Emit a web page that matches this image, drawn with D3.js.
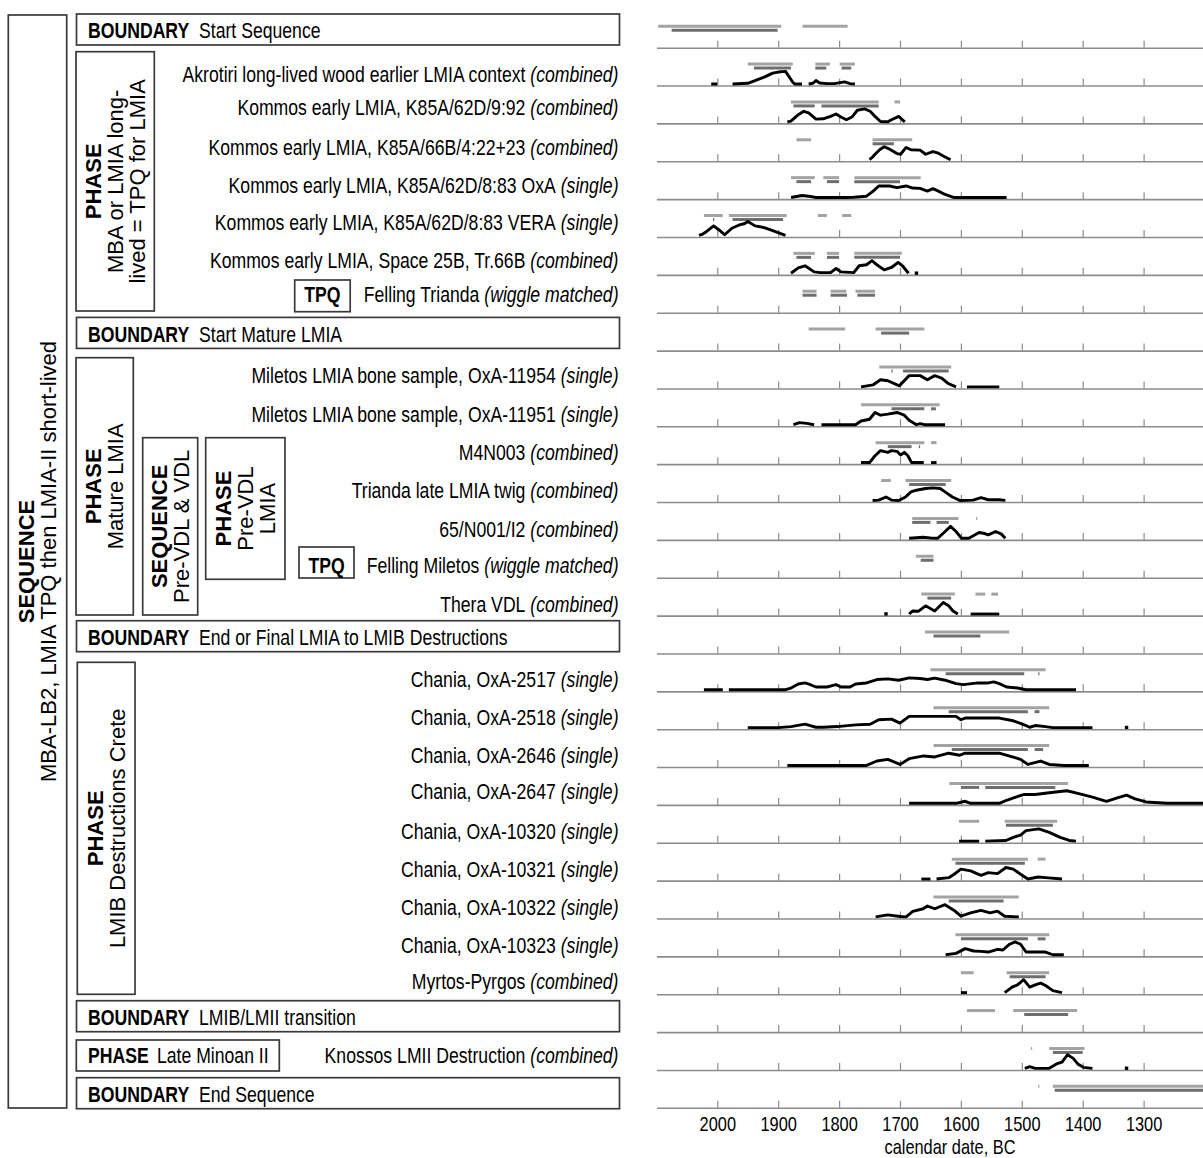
<!DOCTYPE html>
<html><head><meta charset="utf-8">
<script src="https://cdn.jsdelivr.net/npm/d3@7"></script>
<style>
body{margin:0;background:#fff}
svg{display:block;font-family:"Liberation Sans",Arial,Helvetica,sans-serif}
</style></head>
<body>
<svg id="chart" width="1203" height="1158"></svg>
<script>
// ---------------- DATA ----------------
const rowLabels = [
  "Start Sequence",
  "Akrotiri long-lived wood earlier LMIA context",
  "Kommos early LMIA, K85A/62D/9:92",
  "Kommos early LMIA, K85A/66B/4:22+23",
  "Kommos early LMIA, K85A/62D/8:83 OxA",
  "Kommos early LMIA, K85A/62D/8:83 VERA",
  "Kommos early LMIA, Space 25B, Tr.66B",
  "Felling Trianda",
  "Start Mature LMIA",
  "Miletos LMIA bone sample, OxA-11954",
  "Miletos LMIA bone sample, OxA-11951",
  "M4N003",
  "Trianda late LMIA twig",
  "65/N001/I2",
  "Felling Miletos",
  "Thera VDL",
  "End or Final LMIA to LMIB Destructions",
  "Chania, OxA-2517",
  "Chania, OxA-2518",
  "Chania, OxA-2646",
  "Chania, OxA-2647",
  "Chania, OxA-10320",
  "Chania, OxA-10321",
  "Chania, OxA-10322",
  "Chania, OxA-10323",
  "Myrtos-Pyrgos",
  "LMIB/LMII transition",
  "Knossos LMII Destruction",
  "End Sequence"
];
const rowTypes = ["BOUNDARY","item","item","item","item","item","item","TPQ","BOUNDARY",
  "item","item","item","item","item","TPQ","item","BOUNDARY",
  "item","item","item","item","item","item","item","item","item","BOUNDARY","item","BOUNDARY"];
const rowQualifiers = ["","(combined)","(combined)","(combined)","(single)","(single)","(combined)","(wiggle matched)","",
  "(single)","(single)","(combined)","(combined)","(combined)","(wiggle matched)","(combined)","",
  "(single)","(single)","(single)","(single)","(single)","(single)","(single)","(single)","(combined)","","(combined)",""];

const tickYears = [2000,1900,1800,1700,1600,1500,1400,1300];
const axisTitle = "calendar date, BC";

// 95.4% ranges (upper, light) and 68.2% ranges (lower, dark), years BC
const range95 = [
  [[2097,1895],[1860,1786]],
  [[1950,1876],[1839,1815],[1799,1774]],
  [[1879,1735],[1709,1700]],
  [[1870,1846],[1745,1680]],
  [[1879,1840],[1826,1800],[1775,1666]],
  [[2022,1991],[1981,1886],[1835,1820],[1795,1780]],
  [[1875,1840],[1820,1800],[1775,1697]],
  [[1860,1837],[1814,1788],[1773,1741]],
  [[1850,1790],[1740,1660]],
  [[1734,1616]],
  [[1764,1635]],
  [[1740,1660],[1649,1640]],
  [[1731,1715],[1691,1616]],
  [[1680,1604],[1575,1573]],
  [[1674,1645]],
  [[1665,1610],[1576,1560],[1550,1539]],
  [[1659,1521]],
  [[1650,1461]],
  [[1645,1455]],
  [[1645,1455]],
  [[1619,1424]],
  [[1603,1570],[1528,1442]],
  [[1615,1490],[1474,1461]],
  [[1645,1505]],
  [[1609,1455]],
  [[1600,1579],[1525,1455]],
  [[1590,1544],[1514,1409]],
  [[1485,1483],[1455,1397]],
  [[1473,1471],[1449,1180]]
];
const range68 = [
  [[2075,1901]],
  [[1940,1879],[1839,1821],[1796,1780]],
  [[1875,1840],[1829,1735]],
  [[1745,1710]],
  [[1870,1846],[1820,1800],[1775,1700]],
  [[2007,2005],[1975,1892]],
  [[1870,1846],[1820,1800],[1775,1700]],
  [[1860,1837],[1814,1787],[1770,1741]],
  [[1731,1685]],
  [[1714,1712],[1695,1620]],
  [[1714,1660],[1649,1641]],
  [[1720,1681],[1669,1667]],
  [[1685,1625]],
  [[1680,1650],[1640,1620]],
  [[1666,1645]],
  [[1655,1616]],
  [[1645,1568]],
  [[1625,1496],[1473,1471]],
  [[1620,1490],[1479,1471]],
  [[1615,1490],[1479,1465]],
  [[1600,1570],[1560,1445]],
  [[1526,1449]],
  [[1609,1495]],
  [[1620,1530]],
  [[1600,1490],[1474,1461]],
  [[1520,1461]],
  [[1496,1424]],
  [[1449,1400]],
  [[1446,1180]]
];

// posterior distributions: segments of [year BC, relative probability]
const posteriors = [
  [],
  [[[2010,0],[2000,0]],
   [[1975,0],[1950,2],[1938,10],[1923,20],[1909,32],[1900,35],[1888,37],[1876,5],[1873,0],[1861,0]],
   [[1850,0],[1843,2],[1838,10],[1832,3],[1820,1],[1808,1],[1791,6],[1782,1],[1774,0]]],
  [[[1885,0],[1879,2],[1867,21],[1858,31],[1850,26],[1838,8],[1826,9],[1814,16],[1805,23],[1797,14],[1788,6],[1779,14],[1770,34],[1758,38],[1749,31],[1741,16],[1732,1],[1720,0],[1714,6],[1702,16],[1696,6],[1692,0]]],
  [[[1750,0],[1745,8],[1741,16],[1733,30],[1726,38],[1717,31],[1705,18],[1699,16],[1690,36],[1682,29],[1667,28],[1658,16],[1646,24],[1637,19],[1629,11],[1617,0]]],
  [[[1879,0],[1861,6],[1850,4],[1838,0],[1790,0],[1776,1],[1755,4],[1744,19],[1735,34],[1717,34],[1705,29],[1690,34],[1679,28],[1667,27],[1655,19],[1646,26],[1637,19],[1626,9],[1611,0],[1525,0]]],
  [[[2030,0],[2024,4],[2018,11],[2006,28],[1997,16],[1988,2],[1976,21],[1965,30],[1955,35],[1950,41],[1938,28],[1923,23],[1909,14],[1897,6],[1888,0]]],
  [[[1879,0],[1867,16],[1856,22],[1841,4],[1830,2],[1814,2],[1805,14],[1797,4],[1776,2],[1767,22],[1755,25],[1746,37],[1738,25],[1726,10],[1714,17],[1703,32],[1696,22],[1686,0]]],
  [],
  [],
  [[[1764,0],[1744,6],[1732,21],[1720,18],[1701,3],[1685,33],[1667,33],[1655,21],[1643,33],[1632,26],[1620,9],[1608,0]],
   [[1590,0],[1537,0]]],
  [[[1875,0],[1865,6],[1853,4],[1841,0]],
   [[1829,0],[1773,0],[1764,11],[1750,16],[1741,36],[1732,28],[1720,31],[1705,36],[1693,28],[1685,13],[1673,0],[1667,3],[1660,0],[1626,0]]],
  [[[1764,0],[1750,0],[1741,20],[1732,35],[1720,30],[1714,35],[1705,33],[1699,22],[1693,30],[1687,20],[1681,0],[1661,0]],
   [[1649,0],[1640,0]]],
  [[[1745,0],[1735,1],[1723,10],[1714,1],[1702,0],[1691,10],[1682,25],[1673,30],[1658,35],[1646,37],[1634,35],[1626,25],[1614,10],[1602,0],[1580,1],[1567,8],[1555,2],[1537,2],[1527,0]]],
  [[[1685,0],[1662,3],[1650,1],[1638,0],[1629,15],[1617,35],[1608,20],[1599,0],[1587,0],[1570,17],[1561,14],[1555,10],[1543,20],[1534,13],[1527,0]]],
  [],
  [[[1685,0],[1679,9],[1670,8],[1658,24],[1643,9],[1629,34],[1620,24],[1613,9],[1605,0]],
   [[1584,0],[1537,0]]],
  [],
  [[[2022,0],[1991,0]],
   [[1981,0],[1888,0],[1879,5],[1867,17],[1856,20],[1846,14],[1838,8],[1820,8],[1805,15],[1797,8],[1782,8],[1773,17],[1755,20],[1738,30],[1720,32],[1702,28],[1685,35],[1667,33],[1655,30],[1643,34],[1626,28],[1608,18],[1596,15],[1572,20],[1555,20],[1546,23],[1537,18],[1525,8],[1507,5],[1493,0],[1411,0]]],
  [[[1950,0],[1900,0],[1879,3],[1856,10],[1838,1],[1826,1],[1803,3],[1773,8],[1749,10],[1735,23],[1714,25],[1700,13],[1685,33],[1655,33],[1608,33],[1600,23],[1593,28],[1537,28],[1514,20],[1496,8],[1487,1],[1478,6],[1461,3],[1449,0],[1384,0]]],
  [[[1885,0],[1755,0],[1738,13],[1720,18],[1700,3],[1685,20],[1661,28],[1643,25],[1620,36],[1602,30],[1593,36],[1537,36],[1502,18],[1490,3],[1469,13],[1455,3],[1431,0],[1390,0]]],
  [[[1685,0],[1608,0],[1593,6],[1584,0],[1537,0],[1525,9],[1510,18],[1496,26],[1478,26],[1455,31],[1426,37],[1408,29],[1384,18],[1361,6],[1343,16],[1328,24],[1314,13],[1296,4],[1261,0],[1202,0]]],
  [[[1603,0],[1570,0]],
   [[1560,0],[1526,2],[1514,11],[1502,18],[1493,31],[1472,36],[1455,26],[1437,11],[1422,2],[1411,0]]],
  [[[1665,0],[1650,0]],
   [[1640,0],[1620,4],[1611,14],[1600,29],[1584,24],[1567,11],[1555,19],[1540,16],[1526,34],[1514,29],[1502,14],[1490,0],[1473,6],[1461,4],[1434,0]]],
  [[[1740,0],[1730,3],[1720,6],[1700,1],[1690,0],[1679,16],[1662,24],[1655,32],[1643,24],[1626,36],[1611,19],[1600,2],[1584,12],[1567,19],[1552,12],[1540,17],[1528,2],[1505,0]]],
  [[[1625,0],[1608,4],[1593,18],[1579,11],[1567,10],[1555,8],[1540,16],[1531,14],[1520,31],[1511,38],[1502,31],[1493,8],[1478,8],[1461,8],[1449,0],[1431,0]]],
  [[[1600,0],[1590,0]],
   [[1528,0],[1516,16],[1507,23],[1497,38],[1487,16],[1478,23],[1469,28],[1461,21],[1449,6],[1434,0]]],
  [],
  [[[1495,0],[1487,5],[1478,0],[1455,0],[1443,13],[1434,18],[1425,40],[1416,30],[1408,13],[1399,3],[1384,0]]],
  []
];
// isolated probability specks: [row index, year BC]
const specks = [[6,1673],[15,1723],[18,1328],[27,1328]];

// structure titles (vertical group boxes)
const groupTitles = [
  [["SEQUENCE",true],["MBA-LB2, LMIA TPQ then LMIA-II short-lived",false]],
  [["PHASE",true],["MBA or LMIA long-",false],["lived = TPQ for LMIA",false]],
  [["PHASE",true],["Mature LMIA",false]],
  [["SEQUENCE",true],["Pre-VDL & VDL",false]],
  [["PHASE",true],["Pre-VDL",false],["LMIA",false]],
  [["PHASE",true],["LMIB Destructions Crete",false]]
];
const phaseLM2 = ["PHASE","Late Minoan II"];

// ---------------- LAYOUT (positions only) ----------------
const W = 1203, H = 1158;
const labelBaseY = [38.3,81.7,115,155,192.7,230,268,302,341.7,382.5,422,460,498,537,573,611.7,
  645,686.7,725,762.7,799,839,877,915,952.7,989,1025,1063,1102];
const groupBoxes = [
  [8.3,15,66.7,1108],[76,51.7,154.3,311],[76,357.7,133.3,615],
  [142.7,437.7,197.7,615],[205.7,437.7,285,579.3],[77.3,662.3,135,994.3]
];
const tpqBoxes = {7:[294.7,280,350.2,311.7], 14:[299,547,354,578]};
const lm2Box = [76.3,1040,279.3,1071];
const FONT = 21.5, SX = 0.82, VFONT = 22;

// ---------------- DRAW ----------------
const svg = d3.select("#chart");
const x = d3.scaleLinear().domain([2100,1200]).range([656.4,1204.5]);
const y = d3.scalePoint().domain(d3.range(rowLabels.length)).range([47.7,1107.8]);
const hScale = d3.scaleLinear().domain([0,40]).range([0,13.6]);

function htext(g, px, py, parts, anchor, size){
  const t = g.append("text")
    .attr("transform", `translate(${px},${py}) scale(${SX},1)`)
    .attr("text-anchor", anchor)
    .attr("font-size", size || FONT)
    .attr("fill", "#000");
  parts.forEach(p => {
    const s = t.append("tspan").text(p.t);
    if (p.b) s.attr("font-weight","bold");
    if (p.i) s.attr("font-style","italic");
    if (p.dx) s.attr("dx", p.dx);
  });
  return t;
}
function rect(g, b){
  g.append("rect").attr("x",b[0]).attr("y",b[1]).attr("width",b[2]-b[0]).attr("height",b[3]-b[1])
   .attr("fill","none").attr("stroke","#3a3a3a").attr("stroke-width",1.7);
}

// left structure panel
const left = svg.append("g");
groupBoxes.forEach((b,k) => {
  rect(left, b);
  const lines = groupTitles[k];
  const cx = (b[0]+b[2])/2, cy = (b[1]+b[3])/2, n = lines.length;
  lines.forEach((ln,j) => {
    const bx = cx - (n-1)*11 + j*22 + 7.5;
    left.append("text")
      .attr("transform", `translate(${bx},${cy}) rotate(-90)`)
      .attr("text-anchor","middle")
      .attr("font-size", VFONT)
      .attr("font-weight", ln[1] ? "bold" : "normal")
      .text(ln[0]);
  });
});

rowLabels.forEach((name,i) => {
  const by = labelBaseY[i];
  if (rowTypes[i] === "BOUNDARY") {
    rect(left, [76.5, by-24.3, 619.5, by+6.7]);
    htext(left, 88, by, [{t:"BOUNDARY", b:1},{t:name, dx:12}], "start");
  } else {
    if (rowTypes[i] === "TPQ") {
      const b = tpqBoxes[i];
      rect(left, b);
      htext(left, (b[0]+b[2])/2, by, [{t:"TPQ", b:1}], "middle");
    }
    htext(left, 618.5, by, [{t:name},{t:rowQualifiers[i], i:1, dx:6}], "end");
  }
});
rect(left, lm2Box);
htext(left, 88, labelBaseY[27], [{t:phaseLM2[0], b:1},{t:phaseLM2[1], dx:10}], "start");

// right plot panel
svg.append("clipPath").attr("id","clipP").append("rect")
  .attr("x",x(2100)).attr("y",0).attr("width",x(1200)-x(2100)).attr("height",H);
const plot = svg.append("g");
const last = rowLabels.length - 1;

rowLabels.forEach((_,i) => {
  const ax = d3.axisBottom(x).tickValues(tickYears).tickSizeInner(-7).tickSizeOuter(0).tickPadding(9)
    .tickFormat(i === last ? (d => d) : (() => ""));
  const g = plot.append("g").attr("transform", `translate(0,${y(i)})`).call(ax);
  g.attr("font-family", null).attr("font-size", null);
  g.select(".domain").attr("stroke","#8c8c8c").attr("stroke-width",1.6);
  g.selectAll(".tick line").attr("stroke","#8c8c8c").attr("stroke-width",1.2);
  g.selectAll(".tick text").attr("fill","#000").attr("font-size",20)
    .attr("transform", `scale(${SX},1)`);
});

const marks = plot.append("g").attr("clip-path","url(#clipP)");
rowLabels.forEach((_,i) => {
  const yy = y(i);
  marks.selectAll(null).data(range95[i]).join("line")
    .attr("x1", d => x(d[0])).attr("x2", d => x(d[1]))
    .attr("y1", yy-21.5).attr("y2", yy-21.5)
    .attr("stroke","#a3a3a3").attr("stroke-width",3);
  marks.selectAll(null).data(range68[i]).join("line")
    .attr("x1", d => x(d[0])).attr("x2", d => x(d[1]))
    .attr("y1", yy-17.5).attr("y2", yy-17.5)
    .attr("stroke","#6e6e6e").attr("stroke-width",3);
  const line = d3.line().x(d => x(d[0])).y(d => yy - 1.6 - hScale(d[1]));
  marks.selectAll(null).data(posteriors[i]).join("path")
    .attr("d", line).attr("fill","none").attr("stroke","#000")
    .attr("stroke-width",2.9).attr("stroke-linejoin","round");
});
marks.selectAll(null).data(specks).join("rect")
  .attr("x", d => x(d[1]) - 1.7).attr("y", d => y(d[0]) - 3.4)
  .attr("width",3.4).attr("height",3.4).attr("fill","#000");

htext(svg, 950, 1153.5, [{t:axisTitle}], "middle", 20);
</script>
</body></html>
